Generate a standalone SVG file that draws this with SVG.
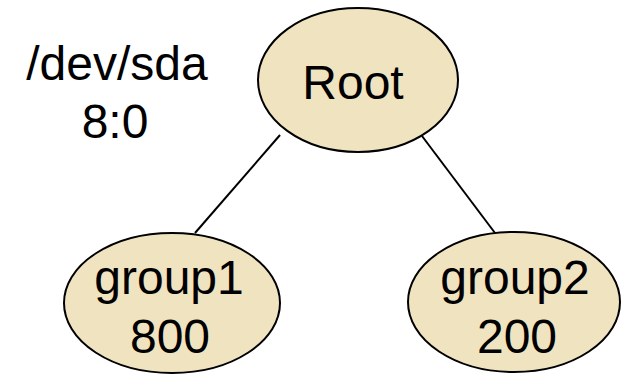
<svg xmlns="http://www.w3.org/2000/svg" width="621" height="374" viewBox="0 0 621 374">
<style>
.node{fill:#F0E3C0;stroke:#000;stroke-width:2}
.edge{stroke:#000;stroke-width:2;fill:none}
text{font-family:"Liberation Sans",Arial,sans-serif;font-size:48px;fill:#000;text-anchor:middle}
</style>
<rect width="621" height="374" fill="#fff"/>
<g id="connectors">
<line class="edge" x1="280" y1="135" x2="195" y2="233"/>
<line class="edge" x1="422" y1="136" x2="495" y2="233"/>
</g>
<g id="label">
<text x="117" y="80">/dev/sda</text>
<text x="115" y="138">8:0</text>
</g>
<g id="root">
<ellipse class="node" cx="358" cy="80" rx="100" ry="72"/>
<text x="353" y="99">Root</text>
</g>
<g id="group1">
<ellipse class="node" cx="172" cy="303" rx="108" ry="70"/>
<text x="169" y="294">group1</text>
<text x="170" y="353">800</text>
</g>
<g id="group2">
<ellipse class="node" cx="514" cy="302" rx="106" ry="70"/>
<text x="515" y="294">group2</text>
<text x="517" y="353">200</text>
</g>
</svg>
